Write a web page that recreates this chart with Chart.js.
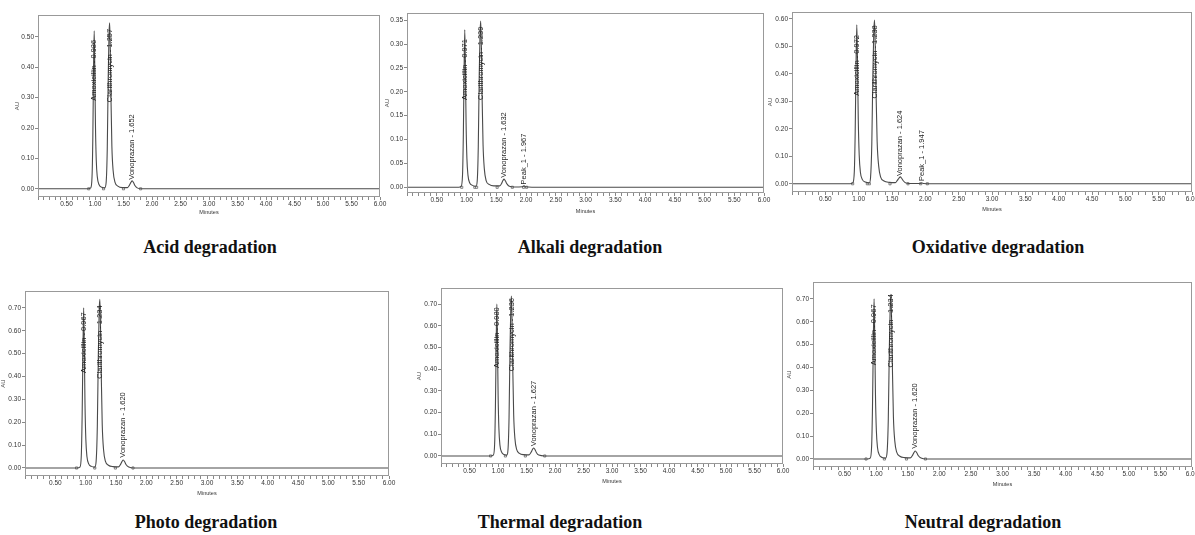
<!DOCTYPE html>
<html>
<head>
<meta charset="utf-8">
<script src="https://cdn.jsdelivr.net/npm/chart.js@4.4.0/dist/chart.umd.min.js"></script>
<style>
  html, body { margin: 0; padding: 0; background: #fff; overflow: hidden; }
  body { width: 1195px; height: 535px; position: relative; }
  canvas { position: absolute; }
  .title {
    position: absolute;
    transform: translateX(-50%);
    font: bold 18px "Liberation Serif", "Times New Roman", serif;
    color: #111;
    white-space: nowrap;
  }
</style>
</head>
<body>
<script>
// --- Acid degradation ---
const acidTime = [0, 0.88, 0.925, 0.948, 0.962, 0.975, 0.986, 0.996, 1.008, 1.022, 1.04, 1.07, 1.12, 1.17, 1.195, 1.215, 1.232, 1.246, 1.257, 1.267, 1.28, 1.296, 1.318, 1.35, 1.40, 1.48, 1.57, 1.605, 1.63, 1.652, 1.675, 1.70, 1.74, 1.82, 6.0];
const acidAU = [0, 0, 0.003, 0.04, 0.17, 0.40, 0.52, 0.40, 0.21, 0.095, 0.04, 0.014, 0.005, 0.003, 0.02, 0.13, 0.37, 0.51, 0.546, 0.47, 0.30, 0.14, 0.06, 0.022, 0.009, 0.004, 0.004, 0.012, 0.021, 0.026, 0.021, 0.011, 0.003, 0, 0];
const acidPeaks = ['Amoxicillin - 0.986', 'Clarithromycin - 1.257', 'Vonoprazan - 1.652'];
const acidPeakTime = [0.986, 1.257, 1.652];
const acidLabelAU = [0.29, 0.285, 0.03];
const acidMarks = [0.89, 1.15, 1.50, 1.80];
const acidTicks = [0, 0.1, 0.2, 0.3, 0.4, 0.5];

// --- Alkali degradation ---
const alkaliTime = [0, 0.87, 0.91, 0.933, 0.947, 0.96, 0.971, 0.981, 0.993, 1.007, 1.025, 1.055, 1.10, 1.16, 1.18, 1.198, 1.214, 1.228, 1.239, 1.249, 1.262, 1.278, 1.30, 1.33, 1.38, 1.46, 1.56, 1.59, 1.612, 1.632, 1.655, 1.68, 1.72, 1.80, 1.94, 1.967, 1.995, 2.10, 6.0];
const alkaliAU = [0, 0, 0.002, 0.025, 0.11, 0.25, 0.33, 0.255, 0.135, 0.06, 0.025, 0.009, 0.004, 0.002, 0.013, 0.085, 0.235, 0.325, 0.348, 0.30, 0.19, 0.09, 0.038, 0.014, 0.006, 0.003, 0.003, 0.008, 0.014, 0.017, 0.013, 0.007, 0.002, 0.0005, 0.001, 0.003, 0.001, 0, 0];
const alkaliPeaks = ['Amoxicillin - 0.971', 'Clarithromycin - 1.239', 'Vonoprazan - 1.632', 'Peak_1 - 1.967'];
const alkaliPeakTime = [0.971, 1.239, 1.632, 1.967];
const alkaliLabelAU = [0.183, 0.183, 0.02, 0.006];
const alkaliMarks = [0.92, 1.14, 1.17, 1.515, 1.77, 1.96, 2.01];
const alkaliTicks = [0, 0.05, 0.1, 0.15, 0.2, 0.25, 0.3, 0.35];

// --- Oxidative degradation ---
const oxidTime = [0, 0.87, 0.912, 0.935, 0.948, 0.961, 0.972, 0.982, 0.994, 1.008, 1.026, 1.056, 1.10, 1.16, 1.178, 1.197, 1.213, 1.227, 1.238, 1.248, 1.261, 1.277, 1.30, 1.33, 1.38, 1.46, 1.55, 1.58, 1.603, 1.624, 1.647, 1.672, 1.71, 1.80, 1.92, 1.947, 1.975, 2.08, 6.0];
const oxidAU = [0, 0, 0.003, 0.045, 0.19, 0.44, 0.578, 0.45, 0.235, 0.105, 0.042, 0.015, 0.006, 0.003, 0.022, 0.145, 0.40, 0.555, 0.596, 0.51, 0.33, 0.155, 0.065, 0.024, 0.01, 0.005, 0.004, 0.012, 0.02, 0.025, 0.019, 0.01, 0.003, 0.001, 0.001, 0.003, 0.001, 0, 0];
const oxidPeaks = ['Amoxicillin - 0.972', 'Clarithromycin - 1.238', 'Vonoprazan - 1.624', 'Peak_1 - 1.947'];
const oxidPeakTime = [0.972, 1.238, 1.624, 1.947];
const oxidLabelAU = [0.32, 0.31, 0.028, 0.01];
const oxidMarks = [0.91, 1.13, 1.16, 1.47, 1.74, 1.93, 2.03];
const oxidTicks = [0, 0.1, 0.2, 0.3, 0.4, 0.5, 0.6];

// --- Photo degradation ---
const photoTime = [0, 0.86, 0.905, 0.928, 0.942, 0.956, 0.967, 0.977, 0.989, 1.003, 1.021, 1.05, 1.095, 1.15, 1.172, 1.192, 1.209, 1.223, 1.234, 1.244, 1.257, 1.273, 1.295, 1.325, 1.375, 1.45, 1.54, 1.575, 1.598, 1.620, 1.643, 1.668, 1.71, 1.80, 6.0];
const photoAU = [0, 0, 0.004, 0.055, 0.23, 0.53, 0.70, 0.54, 0.28, 0.125, 0.05, 0.018, 0.007, 0.004, 0.028, 0.18, 0.50, 0.69, 0.738, 0.63, 0.41, 0.19, 0.08, 0.03, 0.012, 0.006, 0.005, 0.016, 0.028, 0.035, 0.027, 0.014, 0.004, 0, 0];
const photoPeaks = ['Amoxicillin - 0.967', 'Clarithromycin - 1.234', 'Vonoprazan - 1.620'];
const photoPeakTime = [0.967, 1.234, 1.620];
const photoLabelAU = [0.415, 0.39, 0.045];
const photoMarks = [0.85, 1.15, 1.49, 1.78];
const photoTicks = [0, 0.1, 0.2, 0.3, 0.4, 0.5, 0.6, 0.7];

// --- Thermal degradation ---
const thermalTime = [0, 0.87, 0.918, 0.941, 0.955, 0.969, 0.980, 0.990, 1.002, 1.016, 1.034, 1.063, 1.105, 1.155, 1.175, 1.194, 1.211, 1.225, 1.236, 1.246, 1.259, 1.275, 1.297, 1.327, 1.377, 1.45, 1.545, 1.58, 1.605, 1.627, 1.65, 1.675, 1.715, 1.82, 6.0];
const thermalAU = [0, 0, 0.004, 0.055, 0.23, 0.53, 0.70, 0.54, 0.28, 0.125, 0.05, 0.018, 0.007, 0.004, 0.028, 0.18, 0.50, 0.69, 0.737, 0.63, 0.41, 0.19, 0.08, 0.03, 0.012, 0.006, 0.005, 0.017, 0.03, 0.037, 0.029, 0.015, 0.004, 0, 0];
const thermalPeaks = ['Amoxicillin - 0.980', 'Clarithromycin - 1.236', 'Vonoprazan - 1.627'];
const thermalPeakTime = [0.980, 1.236, 1.627];
const thermalLabelAU = [0.405, 0.39, 0.045];
const thermalMarks = [0.87, 1.13, 1.48, 1.82];
const thermalTicks = [0, 0.1, 0.2, 0.3, 0.4, 0.5, 0.6, 0.7];

// --- Neutral degradation ---
const neutralTime = [0, 0.86, 0.905, 0.928, 0.942, 0.956, 0.967, 0.977, 0.989, 1.003, 1.021, 1.05, 1.095, 1.15, 1.172, 1.192, 1.209, 1.223, 1.234, 1.244, 1.257, 1.273, 1.295, 1.325, 1.375, 1.45, 1.54, 1.575, 1.598, 1.620, 1.643, 1.668, 1.71, 1.80, 6.0];
const neutralAU = [0, 0, 0.004, 0.055, 0.23, 0.53, 0.70, 0.54, 0.28, 0.125, 0.05, 0.018, 0.007, 0.004, 0.027, 0.175, 0.49, 0.675, 0.72, 0.615, 0.40, 0.185, 0.078, 0.03, 0.012, 0.006, 0.005, 0.016, 0.028, 0.035, 0.027, 0.014, 0.004, 0, 0];
const neutralPeaks = ['Amoxicillin - 0.967', 'Clarithromycin - 1.234', 'Vonoprazan - 1.620'];
const neutralPeakTime = [0.967, 1.234, 1.620];
const neutralLabelAU = [0.41, 0.40, 0.045];
const neutralMarks = [0.84, 1.13, 1.48, 1.78];
const neutralTicks = [0, 0.1, 0.2, 0.3, 0.4, 0.5, 0.6, 0.7];

const titles = ['Acid degradation', 'Alkali degradation', 'Oxidative degradation',
                'Photo degradation', 'Thermal degradation', 'Neutral degradation'];

// page layout of every panel (plot box in page pixels)
const panels = [
  { time: acidTime, au: acidAU, names: acidPeaks, pt: acidPeakTime, la: acidLabelAU, marks: acidMarks, ticks: acidTicks,
    yMin: -0.027, yMax: 0.572, box: { l: 38, t: 15, r: 380, b: 197 }, yW: 24, xH: 19, yTitle: 'AU', title: [210, 237] },
  { time: alkaliTime, au: alkaliAU, names: alkaliPeaks, pt: alkaliPeakTime, la: alkaliLabelAU, marks: alkaliMarks, ticks: alkaliTicks,
    yMin: -0.012, yMax: 0.365, box: { l: 407, t: 13, r: 764, b: 193 }, yW: 23, xH: 22, yTitle: 'AU', title: [590, 237] },
  { time: oxidTime, au: oxidAU, names: oxidPeaks, pt: oxidPeakTime, la: oxidLabelAU, marks: oxidMarks, ticks: oxidTicks,
    yMin: -0.03, yMax: 0.625, box: { l: 792, t: 12, r: 1192, b: 192 }, yW: 25, xH: 21, yTitle: 'AU', title: [998, 237] },
  { time: photoTime, au: photoAU, names: photoPeaks, pt: photoPeakTime, la: photoLabelAU, marks: photoMarks, ticks: photoTicks,
    yMin: -0.035, yMax: 0.774, box: { l: 25, t: 291, r: 389, b: 476 }, yW: 25, xH: 21, yTitle: 'AU', title: [206, 512] },
  { time: thermalTime, au: thermalAU, names: thermalPeaks, pt: thermalPeakTime, la: thermalLabelAU, marks: thermalMarks, ticks: thermalTicks,
    yMin: -0.037, yMax: 0.774, box: { l: 441, t: 288, r: 783, b: 464 }, yW: 25, xH: 21, yTitle: 'AU', title: [560, 512] },
  { time: neutralTime, au: neutralAU, names: neutralPeaks, pt: neutralPeakTime, la: neutralLabelAU, marks: neutralMarks, ticks: neutralTicks,
    yMin: -0.035, yMax: 0.774, box: { l: 813, t: 282, r: 1192, b: 467 }, yW: 27, xH: 21, yTitle: 'AU', title: [983, 512] }
];

const PAD_TOP = 6, PAD_RIGHT = 12;
const FONT = '"Liberation Sans", Arial, sans-serif';

// frame round the plot area
const boxPlugin = {
  id: 'frame',
  afterDraw(chart) {
    const a = chart.chartArea, c = chart.ctx;
    c.save();
    c.strokeStyle = '#999';
    c.lineWidth = 1;
    c.strokeRect(Math.round(a.left) + 0.5, Math.round(a.top) + 0.5,
                 Math.round(a.right - a.left) - 1, Math.round(a.bottom - a.top) - 1);
    c.restore();
  }
};

// vertical peak names
const peakLabelPlugin = {
  id: 'peakLabels',
  afterDatasetsDraw(chart, args, opts) {
    const c = chart.ctx, xs = chart.scales.x, ys = chart.scales.y;
    c.save();
    c.font = '7.5px ' + FONT;
    c.fillStyle = '#222';
    c.textAlign = 'left';
    c.textBaseline = 'middle';
    opts.names.forEach((n, i) => {
      c.save();
      c.translate(xs.getPixelForValue(opts.times[i]), ys.getPixelForValue(opts.base[i]));
      c.rotate(-Math.PI / 2);
      c.fillText(n, 0, 0);
      c.restore();
    });
    c.restore();
  }
};

panels.forEach((p, idx) => {
  const cv = document.createElement('canvas');
  const w = p.box.r - p.box.l + p.yW + PAD_RIGHT;
  const h = p.box.b - p.box.t + PAD_TOP + p.xH;
  cv.width = w; cv.height = h;
  cv.style.left = (p.box.l - p.yW) + 'px';
  cv.style.top = (p.box.t - PAD_TOP) + 'px';
  cv.style.width = w + 'px'; cv.style.height = h + 'px';
  document.body.appendChild(cv);

  const t = document.createElement('div');
  t.className = 'title';
  t.textContent = titles[idx];
  t.style.left = p.title[0] + 'px';
  t.style.top = p.title[1] + 'px';
  document.body.appendChild(t);

  new Chart(cv.getContext('2d'), {
    type: 'line',
    data: {
      datasets: [{
        data: p.time.map((x, i) => ({ x: x, y: p.au[i] })),
        borderColor: '#4a4a4a',
        borderWidth: 1.1,
        pointRadius: 0,
        cubicInterpolationMode: 'monotone',
        fill: false
      }, {
        type: 'scatter',
        data: p.marks.map(x => ({ x: x, y: 0 })),
        pointStyle: 'rect',
        pointRadius: 1.5,
        borderColor: '#666',
        borderWidth: 0.8,
        backgroundColor: '#fff'
      }]
    },
    options: {
      responsive: false,
      animation: false,
      layout: { padding: { top: PAD_TOP, right: PAD_RIGHT, left: 0, bottom: 0 } },
      plugins: {
        legend: { display: false },
        tooltip: { enabled: false },
        peakLabels: { names: p.names, times: p.pt, base: p.la }
      },
      scales: {
        x: {
          type: 'linear',
          min: 0, max: 6,
          afterFit(s) { s.height = p.xH; },
          border: { display: false },
          grid: { drawOnChartArea: false, drawTicks: true, tickLength: 3, color: '#888' },
          ticks: {
            stepSize: 0.1,
            autoSkip: false,
            maxRotation: 0,
            padding: 0,
            color: '#333',
            font: { size: 6.5, family: FONT },
            callback: v => (Math.round(v * 10) % 5 === 0 && v > 0.01) ? v.toFixed(2) : ''
          },
          title: { display: true, text: 'Minutes', color: '#333', padding: 0, font: { size: 5.5, family: FONT } }
        },
        y: {
          min: p.yMin, max: p.yMax,
          afterFit(s) { s.width = p.yW; },
          afterBuildTicks(s) { s.ticks = p.ticks.map(v => ({ value: v })); },
          border: { display: false },
          grid: { drawOnChartArea: false, drawTicks: true, tickLength: 3, color: '#888' },
          ticks: {
            padding: 1,
            color: '#333',
            font: { size: 6.5, family: FONT },
            callback: v => v.toFixed(2)
          },
          title: { display: true, text: p.yTitle, color: '#444', padding: 0, font: { size: 6, family: FONT } }
        }
      }
    },
    plugins: [boxPlugin, peakLabelPlugin]
  });
});
</script>
</body>
</html>
